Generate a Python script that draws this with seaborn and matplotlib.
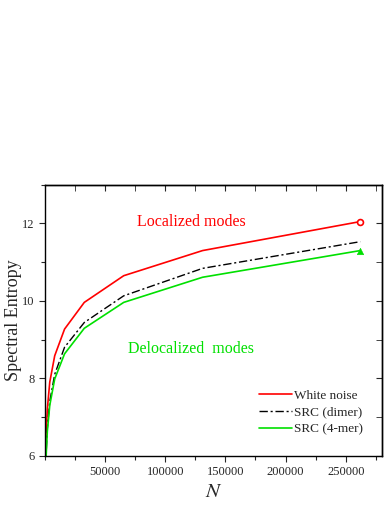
import matplotlib
matplotlib.use("Agg")
import matplotlib.pyplot as plt
import numpy as np
import pandas as pd
import seaborn as sns
from matplotlib.ticker import MultipleLocator

RED = "#ff0000"
GREEN = "#00e000"
BLACK = "#000000"

sizes = [512, 1024, 2048, 4096, 8192, 16384, 32768, 65536, 131072, 262144]
white_noise = [5.82, 6.51, 7.20, 7.90, 8.58, 9.27, 9.96, 10.65, 11.30, 12.05]
src_dimer = [5.35, 6.02, 6.70, 7.40, 8.10, 8.80, 9.44, 10.13, 10.84, 11.53]
src_4mer = [5.25, 5.95, 6.62, 7.30, 7.98, 8.63, 9.29, 9.96, 10.61, 11.30]

sns.set_style("ticks")
plt.rcParams.update({
    'font.family': ['Liberation Serif', 'DejaVu Serif'],
    'font.size': 10,
    'axes.edgecolor': 'black',
    'axes.linewidth': 1,
    'mathtext.fontset': 'stix',
})

fig = plt.figure(figsize=(3.9, 5.05), dpi=100)
ax = fig.add_axes([0.115, 0.098, 0.864, 0.536])

sns.lineplot(x=sizes, y=white_noise, ax=ax, color=RED, lw=1.2, label='White noise')
sns.lineplot(x=sizes, y=src_dimer, ax=ax, color=BLACK, lw=1.0, label='SRC (dimer)',
             linestyle=(0, (6, 2, 1.5, 2)))
sns.lineplot(x=sizes, y=src_4mer, ax=ax, color=GREEN, lw=1.2, label='SRC (4-mer)')
sns.scatterplot(x=sizes[-1:], y=white_noise[-1:], ax=ax, marker='o', s=18,
                facecolor='white', edgecolor=RED, linewidth=1.2, zorder=5)
sns.scatterplot(x=sizes[-1:], y=src_4mer[-1:], ax=ax, marker='^', s=22,
                color=GREEN, edgecolor=GREEN, zorder=5)

ax.set_xlim(0, 280000)
ax.set_ylim(6, 13)
ax.set_xticks([50000, 100000, 150000, 200000, 250000])
ax.xaxis.set_minor_locator(MultipleLocator(25000))
ax.set_yticks([6, 8, 10, 12])
ax.yaxis.set_minor_locator(MultipleLocator(1))
ax.tick_params(which='both', direction='out', top=False, right=False, labelsize=9, width=0.8)
ax.tick_params(which='major', length=4)
ax.tick_params(which='minor', length=3)
ax2 = ax.secondary_xaxis('top')
ax2.set_xticks([50000, 100000, 150000, 200000, 250000])
ax2.xaxis.set_minor_locator(MultipleLocator(25000))
ax2.tick_params(which='both', direction='in', labeltop=False, length=4)
ax3 = ax.secondary_yaxis('right')
ax3.set_yticks([6, 8, 10, 12])
ax3.yaxis.set_minor_locator(MultipleLocator(1))
ax3.tick_params(which='both', direction='in', labelright=False, length=4)

ax.set_xlabel('$N$', fontsize=15, labelpad=4)
ax.set_ylabel('Spectral Entropy', fontsize=13, labelpad=0)

ax.text(0.435, 0.863, 'Localized modes', transform=ax.transAxes, color=RED,
        fontsize=11.5, ha='center', va='center')
ax.text(0.433, 0.395, 'Delocalized  modes', transform=ax.transAxes, color=GREEN,
        fontsize=11.5, ha='center', va='center')

ax.legend(loc='lower right', frameon=False, fontsize=9.5, handlelength=2.5,
          handletextpad=0.2, labelspacing=0.35, bbox_to_anchor=(0.98, 0.03))

fig.savefig('out.png', dpi=100)
